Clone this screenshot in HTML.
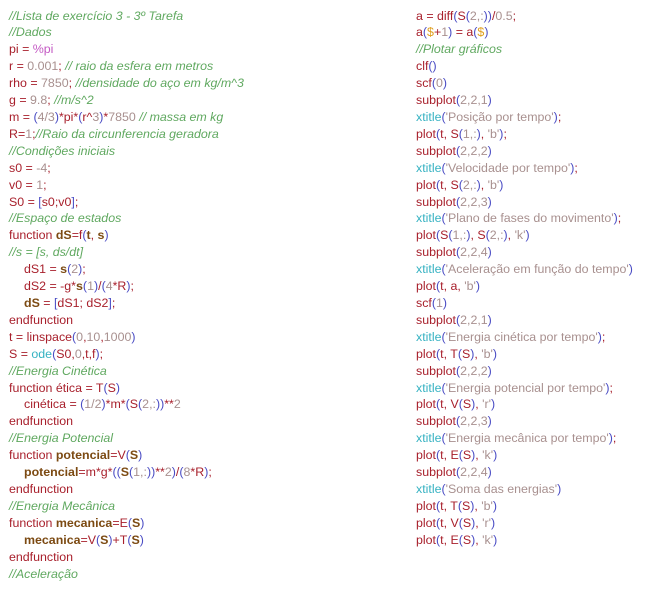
<!DOCTYPE html>
<html><head><meta charset="utf-8"><style>
html,body{margin:0;padding:0;background:#fff;width:652px;height:592px;overflow:hidden}
body{font-family:"Liberation Sans",Arial,sans-serif;font-size:12.4px;color:#a8202c;position:relative}
.l{position:absolute;white-space:pre;line-height:17px;height:17px}
.c{color:#5fa85f;font-style:italic}
.n{color:#a8908f}
.p{color:#4a4cc4}
.f{color:#35b2c2}
.b{color:#7c4a12;font-weight:bold}
.m{color:#c45ac4}
.y{color:#e0a020}
.in{padding-left:15px}
</style></head><body>
<div id="L"></div>
<script>
var left=[
'<span class="c">//Lista de exercício 3 - 3º Tarefa</span>',
'<span class="c">//Dados</span>',
'pi = <span class="m">%pi</span>',
'r = <span class="n">0.001</span>; <span class="c">// raio da esfera em metros</span>',
'rho = <span class="n">7850</span>; <span class="c">//densidade do aço em kg/m^3</span>',
'g = <span class="n">9.8</span>; <span class="c">//m/s^2</span>',
'm = <span class="p">(</span><span class="n">4/3</span><span class="p">)</span>*pi*<span class="p">(</span>r^<span class="n">3</span><span class="p">)</span>*<span class="n">7850</span> <span class="c">// massa em kg</span>',
'R=<span class="n">1</span>;<span class="c">//Raio da circunferencia geradora</span>',
'<span class="c">//Condições iniciais</span>',
's0 = <span class="n">-4</span>;',
'v0 = <span class="n">1</span>;',
'S0 = <span class="p">[</span>s0;v0<span class="p">]</span>;',
'<span class="c">//Espaço de estados</span>',
'function <span class="b">dS</span>=f<span class="p">(</span><span class="b">t</span>, <span class="b">s</span><span class="p">)</span>',
'<span class="c">//s = [s, ds/dt]</span>',
'<span class="in">dS1 = <span class="b">s</span><span class="p">(</span><span class="n">2</span><span class="p">)</span>;</span>',
'<span class="in">dS2 = -g*<span class="b">s</span><span class="p">(</span><span class="n">1</span><span class="p">)</span>/<span class="p">(</span><span class="n">4</span>*R<span class="p">)</span>;</span>',
'<span class="in"><span class="b">dS</span> = <span class="p">[</span>dS1; dS2<span class="p">]</span>;</span>',
'endfunction',
't = linspace<span class="p">(</span><span class="n">0</span>,<span class="n">10</span>,<span class="n">1000</span><span class="p">)</span>',
'S = <span class="f">ode</span><span class="p">(</span>S0,<span class="n">0</span>,t,f<span class="p">)</span>;',
'<span class="c">//Energia Cinética</span>',
'function ética = T<span class="p">(</span>S<span class="p">)</span>',
'<span class="in">cinética = <span class="p">(</span><span class="n">1/2</span><span class="p">)</span>*m*<span class="p">(</span>S<span class="p">(</span><span class="n">2,:</span><span class="p">))</span>**<span class="n">2</span></span>',
'endfunction',
'<span class="c">//Energia Potencial</span>',
'function <span class="b">potencial</span>=V<span class="p">(</span><span class="b">S</span><span class="p">)</span>',
'<span class="in"><span class="b">potencial</span>=m*g*<span class="p">((</span><span class="b">S</span><span class="p">(</span><span class="n">1,:</span><span class="p">))</span>**<span class="n">2</span><span class="p">)</span>/<span class="p">(</span><span class="n">8</span>*R<span class="p">)</span>;</span>',
'endfunction',
'<span class="c">//Energia Mecânica</span>',
'function <span class="b">mecanica</span>=E<span class="p">(</span><span class="b">S</span><span class="p">)</span>',
'<span class="in"><span class="b">mecanica</span>=V<span class="p">(</span><span class="b">S</span><span class="p">)</span>+T<span class="p">(</span><span class="b">S</span><span class="p">)</span></span>',
'endfunction',
'<span class="c">//Aceleração</span>'
];
function P(a){return '<span class="p">(</span>'+a+'<span class="p">)</span>';}
function N(a){return '<span class="n">'+a+'</span>';}
function X(s,end){return '<span class="f">xtitle</span><span class="p">(</span><span class="n">\''+s+'\'</span><span class="p">)</span>'+(end||'');}
var right=[
'a = diff'+P('S'+P(N('2,:')))+'/'+N('0.5')+';',
'a'+P('<span class="y">$</span>+'+N('1'))+' = a'+P('<span class="y">$</span>'),
'<span class="c">//Plotar gráficos</span>',
'clf'+P(''),
'scf'+P(N('0')),
'subplot'+P(N('2,2,1')),
X('Posição por tempo',';'),
'plot'+P('t, S'+P(N('1,:'))+', '+N("'b'"))+';',
'subplot'+P(N('2,2,2')),
X('Velocidade por tempo',';'),
'plot'+P('t, S'+P(N('2,:'))+', '+N("'b'")),
'subplot'+P(N('2,2,3')),
X('Plano de fases do movimento',';'),
'plot'+P('S'+P(N('1,:'))+', S'+P(N('2,:'))+', '+N("'k'")),
'subplot'+P(N('2,2,4')),
X('Aceleração em função do tempo'),
'plot'+P('t, a, '+N("'b'")),
'scf'+P(N('1')),
'subplot'+P(N('2,2,1')),
X('Energia cinética por tempo',';'),
'plot'+P('t, T'+P('S')+', '+N("'b'")),
'subplot'+P(N('2,2,2')),
X('Energia potencial por tempo',';'),
'plot'+P('t, V'+P('S')+', '+N("'r'")),
'subplot'+P(N('2,2,3')),
X('Energia mecânica por tempo',';'),
'plot'+P('t, E'+P('S')+', '+N("'k'")),
'subplot'+P(N('2,2,4')),
X('Soma das energias'),
'plot'+P('t, T'+P('S')+', '+N("'b'")),
'plot'+P('t, V'+P('S')+', '+N("'r'")),
'plot'+P('t, E'+P('S')+', '+N("'k'"))
];
var h='',s=16.91;
left.forEach(function(t,i){h+='<div class="l" style="left:9px;top:'+(7.5+i*s).toFixed(1)+'px">'+t+'</div>';});
right.forEach(function(t,i){h+='<div class="l" style="left:416px;top:'+(7.5+i*s).toFixed(1)+'px">'+t+'</div>';});
document.getElementById('L').innerHTML=h;
</script>
</body></html>
